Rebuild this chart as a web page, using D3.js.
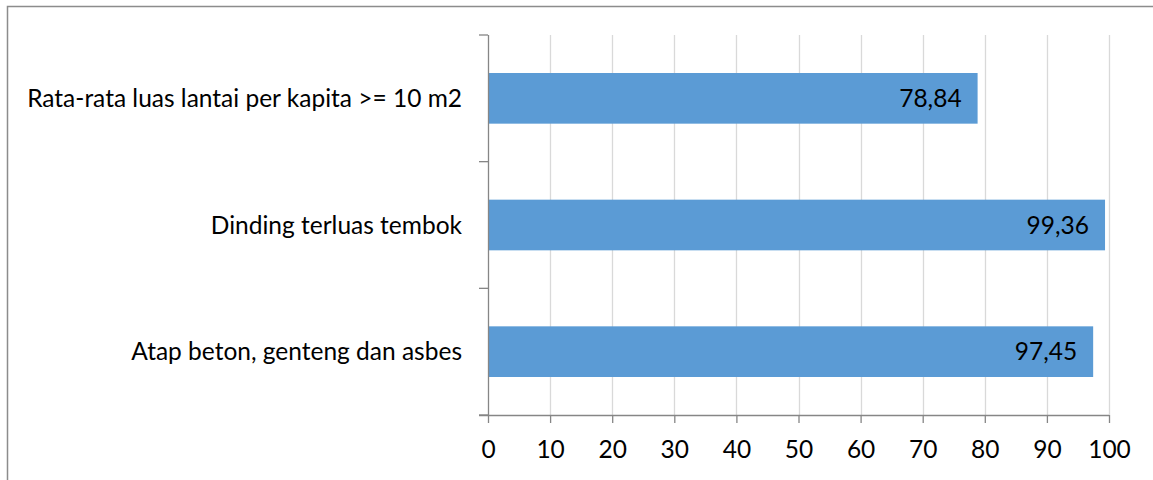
<!DOCTYPE html>
<html>
<head>
<meta charset="utf-8">
<script src="https://cdn.jsdelivr.net/npm/d3@7"></script>
<style>
  html, body { margin: 0; padding: 0; background: #fff; }
  svg { display: block; }
  text { font-family: "Lato", "Open Sans", sans-serif; fill: #000; }
</style>
</head>
<body>
<svg id="chart" width="1153" height="480"></svg>
<script>
// Housing quality indicators (percent)
const categories = [
  "Rata-rata luas lantai per kapita >= 10 m2",
  "Dinding terluas tembok",
  "Atap beton, genteng dan asbes"
];
const values = [78.84, 99.36, 97.45];
const labels = ["78,84", "99,36", "97,45"];
const xTicks = [0, 10, 20, 30, 40, 50, 60, 70, 80, 90, 100];

const svg = d3.select("#chart");
const W = 1153, H = 480;
const margin = { top: 35, right: 44, bottom: 65, left: 488 };
const innerW = W - margin.left - margin.right;
const innerH = H - margin.top - margin.bottom;
const fontSize = "24.5px";

// Chart frame (left and top edges visible)
svg.append("path")
  .attr("d", `M7.5,${H} V6.5 H${W}`)
  .attr("fill", "none")
  .attr("stroke", "#8c8c8c")
  .attr("stroke-width", 1.5);

const g = svg.append("g").attr("transform", `translate(${margin.left},${margin.top})`);

const x = d3.scaleLinear().domain([0, 100]).range([0, innerW]);
const y = d3.scaleBand().domain(categories).range([0, innerH]).paddingInner(0.6).paddingOuter(0.3);

// Vertical gridlines
g.append("g")
  .selectAll("line")
  .data(xTicks.slice(1))
  .join("line")
  .attr("x1", d => Math.round(x(d)) + 0.5)
  .attr("x2", d => Math.round(x(d)) + 0.5)
  .attr("y1", 0)
  .attr("y2", innerH)
  .attr("stroke", "#d9d9d9")
  .attr("stroke-width", 1.3);

// Bars
g.append("g")
  .selectAll("rect")
  .data(values)
  .join("rect")
  .attr("x", 0)
  .attr("y", (d, i) => y(categories[i]))
  .attr("width", d => x(d))
  .attr("height", y.bandwidth())
  .attr("fill", "#5b9bd5");

// Value labels inside bar ends
g.append("g")
  .selectAll("text")
  .data(values)
  .join("text")
  .attr("x", d => x(d) - 16)
  .attr("y", (d, i) => y(categories[i]) + y.bandwidth() / 2)
  .attr("dy", "0.36em")
  .attr("text-anchor", "end")
  .style("font-size", fontSize)
  .text((d, i) => labels[i]);

// X axis
const xAxis = g.append("g")
  .attr("transform", `translate(0,${innerH})`)
  .call(d3.axisBottom(x).tickValues(xTicks).tickSize(8).tickPadding(18).tickFormat(d3.format("d")));
xAxis.select(".domain").attr("stroke", "#868686").attr("stroke-width", 1.3)
  .attr("d", `M-9,0.5H${innerW}`);
xAxis.selectAll(".tick line").attr("stroke", "#868686").attr("stroke-width", 1.3);
xAxis.selectAll(".tick text").style("font-size", fontSize).attr("fill", "#000");

// Y axis with category boundary ticks
const yAxisG = g.append("g");
yAxisG.append("line")
  .attr("x1", 0.5).attr("x2", 0.5)
  .attr("y1", 0).attr("y2", innerH)
  .attr("stroke", "#868686").attr("stroke-width", 1.3);
const step = innerH / categories.length;
yAxisG.selectAll("line.bt")
  .data(d3.range(categories.length + 1))
  .join("line")
  .attr("class", "bt")
  .attr("x1", -9).attr("x2", 0)
  .attr("y1", i => i * step)
  .attr("y2", i => i * step)
  .attr("stroke", "#868686").attr("stroke-width", 1.3);

// Category labels
g.append("g")
  .selectAll("text")
  .data(categories)
  .join("text")
  .attr("x", -26)
  .attr("y", d => y(d) + y.bandwidth() / 2)
  .attr("dy", "0.36em")
  .attr("text-anchor", "end")
  .style("font-size", fontSize)
  .text(d => d);
</script>
</body>
</html>
